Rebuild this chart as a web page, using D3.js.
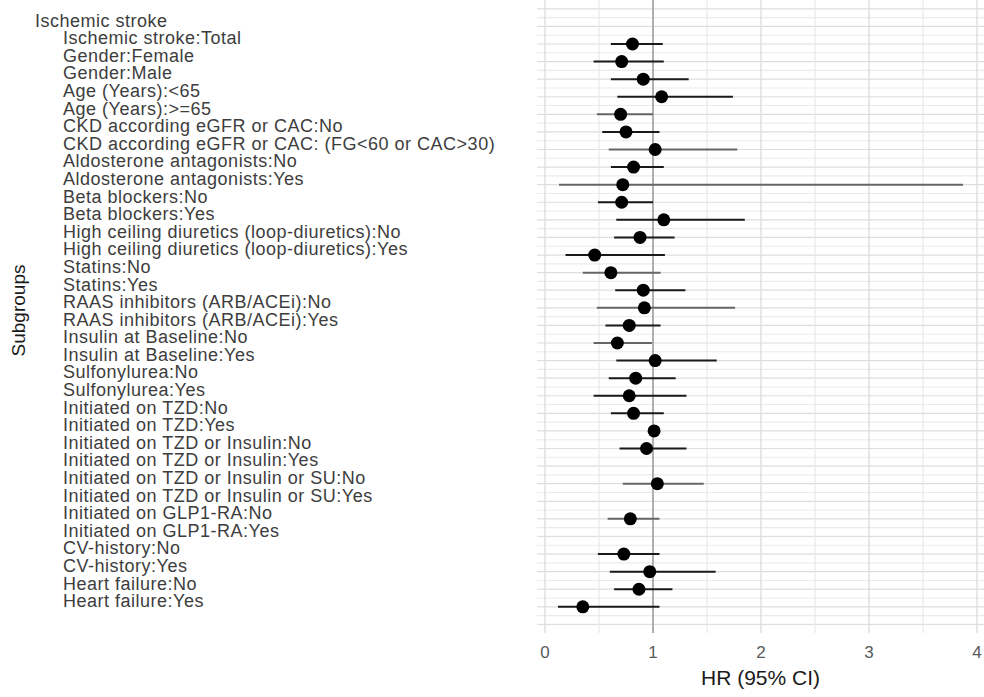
<!DOCTYPE html>
<html>
<head>
<meta charset="utf-8">
<script src="https://cdn.jsdelivr.net/npm/d3@7"></script>
<style>
  body { margin: 0; background: #fff; }
  svg { display: block; font-family: "Liberation Sans", Arial, sans-serif; }
</style>
</head>
<body>
<div id="hook"></div>
<script>
var header = "Ischemic stroke";
var subgroups = [
    "Ischemic stroke:Total",
    "Gender:Female",
    "Gender:Male",
    "Age (Years):<65",
    "Age (Years):>=65",
    "CKD according eGFR or CAC:No",
    "CKD according eGFR or CAC: (FG<60 or CAC>30)",
    "Aldosterone antagonists:No",
    "Aldosterone antagonists:Yes",
    "Beta blockers:No",
    "Beta blockers:Yes",
    "High ceiling diuretics (loop-diuretics):No",
    "High ceiling diuretics (loop-diuretics):Yes",
    "Statins:No",
    "Statins:Yes",
    "RAAS inhibitors (ARB/ACEi):No",
    "RAAS inhibitors (ARB/ACEi):Yes",
    "Insulin at Baseline:No",
    "Insulin at Baseline:Yes",
    "Sulfonylurea:No",
    "Sulfonylurea:Yes",
    "Initiated on TZD:No",
    "Initiated on TZD:Yes",
    "Initiated on TZD or Insulin:No",
    "Initiated on TZD or Insulin:Yes",
    "Initiated on TZD or Insulin or SU:No",
    "Initiated on TZD or Insulin or SU:Yes",
    "Initiated on GLP1-RA:No",
    "Initiated on GLP1-RA:Yes",
    "CV-history:No",
    "CV-history:Yes",
    "Heart failure:No",
    "Heart failure:Yes"
];
var hr    = [0.81, 0.71, 0.91, 1.08, 0.70, 0.75, 1.02, 0.82, 0.72, 0.71, 1.10, 0.88, 0.46, 0.61, 0.91, 0.92, 0.78,
             0.67, 1.02, 0.84, 0.78, 0.82, 1.01, 0.94, null, 1.04, null, 0.79, null, 0.73, 0.97, 0.87, 0.35];
var lower = [0.61, 0.45, 0.61, 0.67, 0.48, 0.53, 0.59, 0.61, 0.13, 0.49, 0.66, 0.64, 0.19, 0.35, 0.65, 0.48, 0.56,
             0.45, 0.66, 0.59, 0.45, 0.61, 0.98, 0.69, null, 0.72, null, 0.58, null, 0.49, 0.60, 0.64, 0.12];
var upper = [1.09, 1.10, 1.33, 1.74, 1.00, 1.06, 1.78, 1.10, 3.87, 1.00, 1.85, 1.20, 1.11, 1.07, 1.30, 1.76, 1.07,
             0.99, 1.59, 1.21, 1.31, 1.10, 1.04, 1.31, null, 1.47, null, 1.06, null, 1.06, 1.58, 1.18, 1.06];
// rows whose interval is drawn in the lighter grey
var lightRows = [
    "Age (Years):>=65",
    "CKD according eGFR or CAC: (FG<60 or CAC>30)",
    "Aldosterone antagonists:Yes",
    "Statins:No",
    "RAAS inhibitors (ARB/ACEi):No",
    "Insulin at Baseline:No",
    "Initiated on TZD or Insulin or SU:No",
    "Initiated on GLP1-RA:No"
];
var xTicks = [0, 1, 2, 3, 4];
var xMinor = [0.5, 1.5, 2.5, 3.5];

var w = 984;
var h = 697;
var panel = { left: 537, right: 984, top: 0, bottom: 633 };

var rowKeys = ["_top", header].concat(subgroups).concat(["_bottom"]);

var x = d3.scaleLinear().domain([0, 4]).range([545, 977]);
var y = d3.scalePoint().domain(rowKeys).range([8.8, 624.4]);
var step = y.step();

var rows = subgroups.map(function (s, i) {
    return { label: s, hr: hr[i], lo: lower[i], hi: upper[i] };
});

var svg = d3.select("#hook")
    .append("svg")
    .attr("width", w)
    .attr("height", h);

svg.append("rect")
    .attr("width", w)
    .attr("height", h)
    .attr("fill", "#fff");

var grid = svg.append("g");

// horizontal minor lines between rows
grid.selectAll("line.hminor")
    .data(rowKeys.slice(1))
    .enter()
    .append("line")
    .attr("class", "hminor")
    .attr("x1", panel.left).attr("x2", panel.right)
    .attr("y1", function (d) { return y(d) - step / 2; })
    .attr("y2", function (d) { return y(d) - step / 2; })
    .attr("stroke", "#ebebeb")
    .attr("stroke-width", 1.1);

grid.selectAll("line.hmajor")
    .data(rowKeys)
    .enter()
    .append("line")
    .attr("class", "hmajor")
    .attr("x1", panel.left).attr("x2", panel.right)
    .attr("y1", function (d) { return y(d); })
    .attr("y2", function (d) { return y(d); })
    .attr("stroke", "#dedede")
    .attr("stroke-width", 1.2);

grid.selectAll("line.vminor")
    .data(xMinor)
    .enter()
    .append("line")
    .attr("class", "vminor")
    .attr("x1", function (d) { return x(d); })
    .attr("x2", function (d) { return x(d); })
    .attr("y1", panel.top).attr("y2", panel.bottom)
    .attr("stroke", "#e8e8e8")
    .attr("stroke-width", 1.1);

grid.selectAll("line.vmajor")
    .data(xTicks)
    .enter()
    .append("line")
    .attr("class", "vmajor")
    .attr("x1", function (d) { return x(d); })
    .attr("x2", function (d) { return x(d); })
    .attr("y1", panel.top).attr("y2", panel.bottom)
    .attr("stroke", "#dcdcdc")
    .attr("stroke-width", 1.3);

// reference line at HR = 1
svg.append("line")
    .attr("x1", x(1)).attr("x2", x(1))
    .attr("y1", panel.top).attr("y2", panel.bottom)
    .attr("stroke", "#8a8a8a")
    .attr("stroke-width", 1.2);

var drawn = rows.filter(function (d) { return d.hr != null; });

svg.selectAll("line.ci")
    .data(drawn)
    .enter()
    .append("line")
    .attr("class", "ci")
    .attr("x1", function (d) { return x(d.lo); })
    .attr("x2", function (d) { return x(d.hi); })
    .attr("y1", function (d) { return y(d.label); })
    .attr("y2", function (d) { return y(d.label); })
    .attr("stroke", function (d) {
        return lightRows.indexOf(d.label) >= 0 ? "#666" : "#1a1a1a";
    })
    .attr("stroke-width", 2);

svg.selectAll("circle.pt")
    .data(drawn)
    .enter()
    .append("circle")
    .attr("class", "pt")
    .attr("cx", function (d) { return x(d.hr); })
    .attr("cy", function (d) { return y(d.label); })
    .attr("r", 6.5)
    .attr("fill", "#000");

// row labels (sit a little above their rows, as in the source)
svg.append("text")
    .text(header)
    .attr("x", 35)
    .attr("y", y(header) - 6)
    .attr("dy", "0.35em")
    .attr("font-size", 18)
    .attr("letter-spacing", 0.5)
    .attr("fill", "#3d3d3d");

svg.selectAll("text.lab")
    .data(subgroups)
    .enter()
    .append("text")
    .attr("class", "lab")
    .text(function (d) { return d; })
    .attr("x", 63)
    .attr("y", function (d) { return y(d) - 6; })
    .attr("dy", "0.35em")
    .attr("font-size", 18)
    .attr("letter-spacing", 0.5)
    .attr("fill", "#3d3d3d");

// x axis tick labels
svg.selectAll("text.xt")
    .data(xTicks)
    .enter()
    .append("text")
    .attr("class", "xt")
    .text(function (d) { return d; })
    .attr("x", function (d) { return x(d); })
    .attr("y", 652)
    .attr("dy", "0.35em")
    .attr("text-anchor", "middle")
    .attr("font-size", 17)
    .attr("fill", "#5a5a5a");

svg.append("text")
    .text("HR (95% CI)")
    .attr("x", (panel.left + panel.right) / 2)
    .attr("y", 678)
    .attr("dy", "0.35em")
    .attr("text-anchor", "middle")
    .attr("font-size", 21)
    .attr("fill", "#1a1a1a");

svg.append("text")
    .text("Subgroups")
    .attr("transform", "translate(18," + ((panel.top + panel.bottom) / 2 - 6) + ") rotate(-90)")
    .attr("dy", "0.35em")
    .attr("text-anchor", "middle")
    .attr("font-size", 19)
    .attr("fill", "#1a1a1a");
</script>
</body>
</html>
